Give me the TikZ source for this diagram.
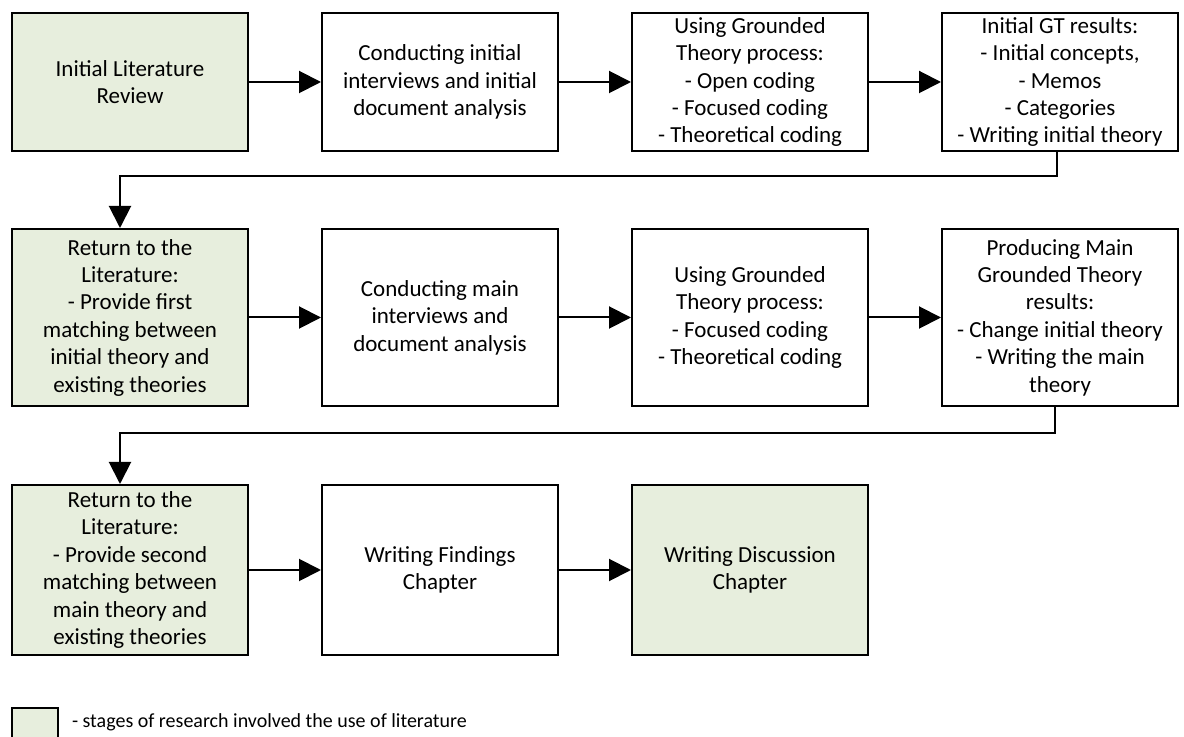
\documentclass[tikz,border=0pt]{standalone}
\usepackage{fontspec}
\setmainfont{Carlito}
\usepackage{xcolor}
\usetikzlibrary{arrows.meta}
\definecolor{litgreen}{RGB}{231,238,221}

\begin{document}
\begin{tikzpicture}[
  x=0.5pt, y=-0.5pt,
  stagebox/.style={draw, line width=1pt, fill=white, align=center,
                   minimum width=118pt, inner sep=2pt,
                   font=\fontsize{11.5}{13.7}\selectfont},
  litbox/.style={stagebox, fill=litgreen},
  rowa/.style={minimum height=69pt},
  rowb/.style={minimum height=88.5pt},
  rowc/.style={minimum height=85pt},
  >={Triangle[length=11pt,width=11pt]}, line width=1pt
]
  \useasboundingbox (0,0) rectangle (1184,737);
  % first round
  \node[litbox, rowa]   (lit1) at (130, 82) {Initial Literature\\Review};
  \node[stagebox, rowa] (int1) at (440, 82) {Conducting initial\\interviews and initial\\document analysis};
  \node[stagebox, rowa] (gt1)  at (750, 82) {Using Grounded\\Theory process:\\- Open coding\\- Focused coding\\- Theoretical coding};
  \node[stagebox, rowa] (res1) at (1060, 82) {Initial GT results:\\- Initial concepts,\\- Memos\\- Categories\\- Writing initial theory};
  % second round
  \node[litbox, rowb]   (lit2) at (130, 317.5) {Return to the\\Literature:\\- Provide first\\matching between\\initial theory and\\existing theories};
  \node[stagebox, rowb] (int2) at (440, 317.5) {Conducting main\\interviews and\\document analysis};
  \node[stagebox, rowb] (gt2)  at (750, 317.5) {Using Grounded\\Theory process:\\- Focused coding\\- Theoretical coding};
  \node[stagebox, rowb] (res2) at (1060, 317.5) {Producing Main\\Grounded Theory\\results:\\- Change initial theory\\- Writing the main\\theory};
  % writing up
  \node[litbox, rowc]   (lit3) at (130, 570) {Return to the\\Literature:\\- Provide second\\matching between\\main theory and\\existing theories};
  \node[stagebox, rowc] (find) at (440, 570) {Writing Findings\\Chapter};
  \node[litbox, rowc]   (disc) at (750, 570) {Writing Discussion\\Chapter};
  % legend
  \node[litbox, minimum width=23pt, minimum height=23pt, inner sep=0pt] (key) at (35, 731) {};
  \node[anchor=west, inner sep=0pt, font=\fontsize{10}{12}\selectfont] (keytext) at (71, 722)
    {- stages of research involved the use of literature};
  \draw[->] (lit1) -- (int1);
  \draw[->] (int1) -- (gt1);
  \draw[->] (gt1) -- (res1);
  \draw[->] ([xshift=-1.5pt]res1.south) -- ++(0,24) -| ([xshift=-5pt]lit2.north);
  \draw[->] (lit2) -- (int2);
  \draw[->] (int2) -- (gt2);
  \draw[->] (gt2) -- (res2);
  \draw[->] ([xshift=-2.5pt]res2.south) -- ++(0,26) -| ([xshift=-5pt]lit3.north);
  \draw[->] (lit3) -- (find);
  \draw[->] (find) -- (disc);
\end{tikzpicture}
\end{document}
